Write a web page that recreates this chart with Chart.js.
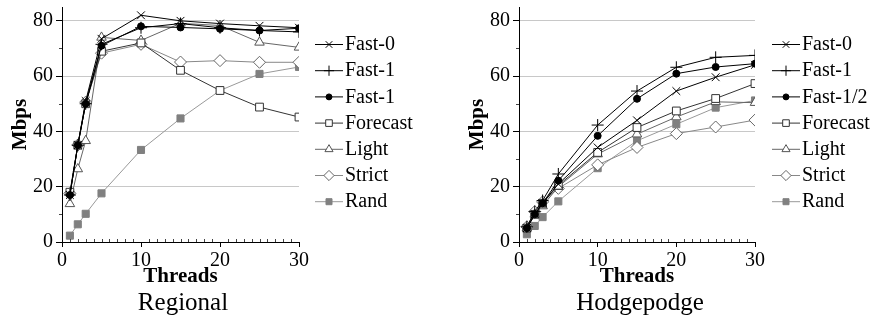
<!DOCTYPE html>
<html>
<head>
<meta charset="utf-8">
<script src="https://cdn.jsdelivr.net/npm/chart.js@4.4.1/dist/chart.umd.min.js"></script>
<style>
  body { margin: 0; background: #fff; }
  #wrap { position: relative; width: 880px; height: 322px; }
  canvas { position: absolute; top: 0; }
</style>
</head>
<body>
<div id="wrap">
  <canvas id="regional" width="440" height="322" style="left:0"></canvas>
  <canvas id="hodge" width="440" height="322" style="left:440px"></canvas>
</div>
<script>
// DATA
const threads = [1, 2, 3, 5, 10, 15, 20, 25, 30];
const yTicks = [0, 20, 40, 60, 80];
const xTicks = [0, 10, 20, 30];

// Regional
const regLabels = ['Fast-0', 'Fast-1', 'Fast-1', 'Forecast', 'Light', 'Strict', 'Rand'];
const regFast0 = [17, 35, 51, 73.5, 82, 80, 79, 78.2, 77.5];
const regFast1 = [17, 35, 50, 71.5, 77.5, 79, 77.5, 76.5, 76];
const regFastB = [17, 35, 50, 71, 78, 77.6, 77.1, 76.5, 77.3];
const regForecast = [18, 35, 50, 69, 72, 62.1, 54.8, 48.8, 45.2];
const regLight = [13.8, 26.4, 36.6, 74, 72.9, 79.1, 78.3, 72.2, 70.4];
const regStrict = [17.6, 35.1, 50.6, 68.3, 71.5, 65.1, 65.6, 65, 65];
const regRand = [2.3, 6.4, 10.2, 17.6, 33.3, 44.7, 54.8, 60.8, 63.3];

// Hodgepodge
const hodLabels = ['Fast-0', 'Fast-1', 'Fast-1/2', 'Forecast', 'Light', 'Strict', 'Rand'];
const hodFast0 = [5, 10, 14, 21, 34.2, 44, 54.6, 59.6, 64.1];
const hodFast1 = [5.5, 11, 15, 24.6, 42.3, 54.6, 63.2, 66.8, 67.5];
const hodFastHalf = [5, 10, 14, 22.2, 38.4, 51.8, 60.9, 63.3, 64.5];
const hodForecast = [5, 10, 14, 20.5, 32.4, 41.4, 47.4, 51.9, 57.3];
const hodLight = [5, 10, 13, 20, 31.8, 39, 45.2, 50.7, 50.4];
const hodStrict = [5.5, 11, 14.5, 19.4, 27.9, 34.2, 39.2, 41.6, 44.1];
const hodRand = [2.8, 5.8, 9, 14.7, 26.7, 36.6, 42.6, 48.6, 51.2];

// STYLES per series (same order in both charts)
const styles = [
  {line: '#000', pt: 'crossRot', r: 5.5, fill: '#000', border: '#000'},
  {line: '#000', pt: 'cross', r: 6, fill: '#000', border: '#000'},
  {line: '#000', pt: 'circle', r: 3.5, fill: '#000', border: '#000'},
  {line: '#333', pt: 'rect', r: 5.5, fill: '#fff', border: '#333'},
  {line: '#666', pt: 'triangle', r: 5.5, fill: '#fff', border: '#555'},
  {line: '#888', pt: 'rectRot', r: 6, fill: '#fff', border: '#666'},
  {line: '#999', pt: 'rect', r: 5, fill: '#808080', border: '#808080'}
];

const serif = '"Liberation Serif", "DejaVu Serif", serif';

function toPoints(arr) {
  return arr.map((v, i) => ({x: threads[i], y: v}));
}

function buildDatasets(labels, series) {
  return series.map((s, i) => ({
    label: labels[i],
    data: toPoints(s),
    borderColor: styles[i].line,
    borderWidth: 1,
    pointStyle: styles[i].pt,
    pointRadius: styles[i].r,
    pointBackgroundColor: styles[i].fill,
    pointBorderColor: styles[i].border,
    pointBorderWidth: 1,
    tension: 0
  }));
}

// legend with line + marker, caption under the chart, minor ticks
const extras = {
  id: 'extras',
  afterDraw(chart, args, opts) {
    const ctx = chart.ctx;
    const xs = chart.scales.x, ys = chart.scales.y;
    ctx.save();
    // minor ticks
    ctx.strokeStyle = '#444';
    ctx.lineWidth = 1;
    ctx.beginPath();
    for (let v = 1; v < 30; v++) {
      if (v % 10 === 0) continue;
      const px = Math.round(xs.getPixelForValue(v)) + 0.5;
      ctx.moveTo(px, ys.bottom);
      ctx.lineTo(px, ys.bottom - 3);
    }
    [10, 30, 50, 70].forEach(v => {
      const py = Math.round(ys.getPixelForValue(v)) + 0.5;
      ctx.moveTo(xs.left, py);
      ctx.lineTo(xs.left - 3, py);
    });
    ctx.stroke();

    // legend
    ctx.font = '20px ' + serif;
    ctx.textBaseline = 'middle';
    ctx.textAlign = 'left';
    chart.data.datasets.forEach((ds, i) => {
      const y = opts.legendY + i * 26.2;
      ctx.strokeStyle = ds.borderColor;
      ctx.beginPath();
      ctx.moveTo(opts.legendX, y + 0.5);
      ctx.lineTo(opts.legendX + 28, y + 0.5);
      ctx.stroke();
      ctx.fillStyle = ds.pointBackgroundColor;
      ctx.strokeStyle = ds.pointBorderColor;
      Chart.helpers.drawPoint(ctx, {pointStyle: ds.pointStyle, radius: ds.pointRadius * 0.85, borderWidth: 1, rotation: 0}, opts.legendX + 14, y + 0.5);
      ctx.fillStyle = '#000';
      ctx.fillText(ds.label, opts.legendX + 30, y + 1);
    });

    // caption
    ctx.font = '25px ' + serif;
    ctx.textAlign = 'center';
    ctx.textBaseline = 'alphabetic';
    ctx.fillStyle = '#000';
    ctx.fillText(opts.caption, opts.captionX, 310);
    ctx.restore();
  }
};

function makeChart(id, labels, series, padLeft, padRight, legendX, caption, captionX) {
  const ctx = document.getElementById(id).getContext('2d');
  return new Chart(ctx, {
    type: 'line',
    data: {datasets: buildDatasets(labels, series)},
    plugins: [extras],
    options: {
      responsive: false,
      animation: false,
      events: [],
      layout: {padding: {left: padLeft, right: padRight, top: 5.8, bottom: 33}},
      scales: {
        x: {
          type: 'linear',
          min: 0, max: 30,
          afterBuildTicks: s => { s.ticks = xTicks.map(v => ({value: v})); },
          afterFit: s => { s.height = 47; s.paddingLeft = 0; s.paddingRight = 0; },
          grid: {drawOnChartArea: false, tickLength: 5, tickColor: '#000'},
          border: {color: '#000', width: 1},
          ticks: {color: '#000', font: {family: serif, size: 20}, padding: 2, maxRotation: 0, autoSkip: false},
          title: {display: true, text: 'Threads', color: '#000', font: {family: serif, size: 21, weight: 'bold'}, padding: 0}
        },
        y: {
          min: 0, max: 85,
          afterBuildTicks: s => { s.ticks = yTicks.map(v => ({value: v})); },
          afterFit: s => { s.width = 62; s.paddingTop = 0; s.paddingBottom = 0; },
          grid: {
            color: c => (c.tick && c.tick.value === 0) ? 'rgba(0,0,0,0)' : '#c8c8c8',
            tickColor: '#000',
            tickLength: 6
          },
          border: {color: '#000', width: 1},
          ticks: {color: '#000', font: {family: serif, size: 20}, padding: 3},
          title: {display: true, text: 'Mbps', color: '#000', font: {family: serif, size: 21, weight: 'bold'}, padding: {top: 8, bottom: 0}}
        }
      },
      plugins: {
        legend: {display: false},
        tooltip: {enabled: false},
        extras: {legendX: legendX, legendY: 44, caption: caption, captionX: captionX}
      }
    }
  });
}

makeChart('regional', regLabels,
  [regFast0, regFast1, regFastB, regForecast, regLight, regStrict, regRand],
  0, 141, 315, 'Regional', 183);

makeChart('hodge', hodLabels,
  [hodFast0, hodFast1, hodFastHalf, hodForecast, hodLight, hodStrict, hodRand],
  17, 125, 332, 'Hodgepodge', 200);
</script>
</body>
</html>
